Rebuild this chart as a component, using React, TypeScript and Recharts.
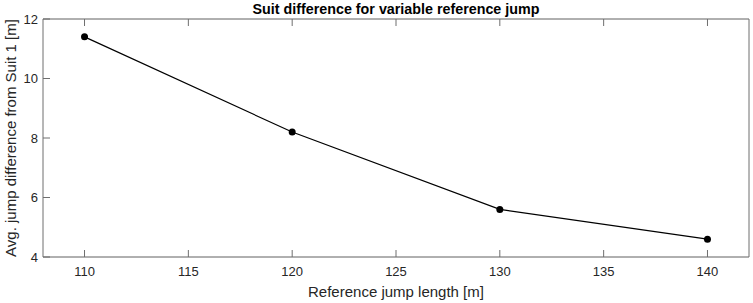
import { LineChart, Line, XAxis, YAxis, CartesianGrid } from 'recharts';

// reference jump lengths [m] and average difference from suit 1 [m]
const refLengths = [110, 120, 130, 140];
const avgDiff = [11.4, 8.2, 5.6, 4.6];

const xTicks = [110, 115, 120, 125, 130, 135, 140];
const yTicks = [4, 6, 8, 10, 12];

const title = 'Suit difference for variable reference jump';
const xLabel = 'Reference jump length [m]';
const yLabel = 'Avg. jump difference from Suit 1 [m]';

const data = refLengths.map((x, i) => ({ x, y: avgDiff[i] }));

const FONT = '"Liberation Sans", Arial, Helvetica, sans-serif';
const AXIS = '#6e6e6e';
const TEXT = '#262626';

export default function App() {
  return (
    <div style={{ position: 'absolute', top: 0, left: 0, width: 753, height: 303, background: '#fff', fontFamily: FONT }}>
      <div
        style={{
          position: 'absolute',
          left: 43,
          width: 706,
          top: 1,
          textAlign: 'center',
          fontWeight: 'bold',
          fontSize: 14.3,
          color: '#000',
          lineHeight: '16px',
        }}
      >
        {title}
      </div>
      <LineChart width={753} height={303} data={data} margin={{ top: 18, right: 0, bottom: 0, left: 0 }}>
        <CartesianGrid horizontal vertical={false} stroke="#e3e3e3" />
        <XAxis
          xAxisId="b"
          dataKey="x"
          type="number"
          domain={[108, 142]}
          ticks={xTicks}
          height={46}
          stroke={AXIS}
          tickSize={-7}
          tickMargin={17}
          tick={{ fill: TEXT, fontSize: 13, fontFamily: FONT }}
          label={{ value: xLabel, position: 'insideBottom', offset: 6, fill: TEXT, fontSize: 15, fontFamily: FONT }}
        />
        <XAxis
          xAxisId="t"
          orientation="top"
          dataKey="x"
          type="number"
          domain={[108, 142]}
          ticks={xTicks}
          height={1}
          stroke={AXIS}
          tickSize={-7}
          tick={{ fill: 'transparent', fontSize: 1 }}
        />
        <YAxis
          yAxisId="l"
          type="number"
          domain={[4, 12]}
          ticks={yTicks}
          width={43}
          stroke={AXIS}
          tickSize={-7}
          tickMargin={12}
          tick={{ fill: TEXT, fontSize: 13, fontFamily: FONT }}
          label={{ value: yLabel, angle: -90, position: 'center', dx: -11, fill: TEXT, fontSize: 15, fontFamily: FONT }}
        />
        <YAxis
          yAxisId="r"
          orientation="right"
          type="number"
          domain={[4, 12]}
          ticks={yTicks}
          width={4}
          stroke={AXIS}
          tickSize={-7}
          tick={{ fill: 'transparent', fontSize: 1 }}
        />
        <Line
          xAxisId="b"
          yAxisId="l"
          dataKey="y"
          stroke="#000"
          strokeWidth={1.2}
          dot={{ r: 3.5, fill: '#000', stroke: '#000', strokeWidth: 0 }}
          isAnimationActive={false}
        />
      </LineChart>
    </div>
  );
}
